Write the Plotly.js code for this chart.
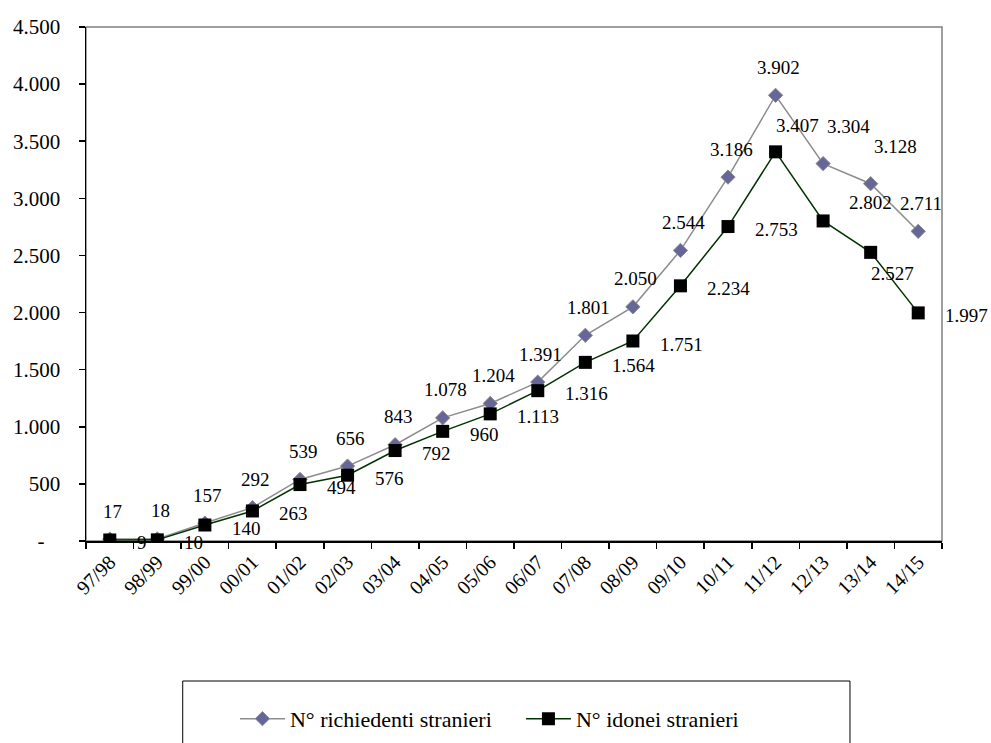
<!DOCTYPE html>
<html>
<head>
<meta charset="utf-8">
<script src="https://cdn.plot.ly/plotly-3.0.1.min.js"></script>
<style>html,body{margin:0;padding:0;background:#fff;}#chart{width:991px;height:743px;}</style>
</head>
<body>
<div id="chart"></div>
<script>
// ---- data ----
var categories = ['97/98','98/99','99/00','00/01','01/02','02/03','03/04','04/05','05/06','06/07','07/08','08/09','09/10','10/11','11/12','12/13','13/14','14/15'];
var richiedenti = [17, 18, 157, 292, 539, 656, 843, 1078, 1204, 1391, 1801, 2050, 2544, 3186, 3902, 3304, 3128, 2711];
var idonei = [9, 10, 140, 263, 494, 576, 792, 960, 1113, 1316, 1564, 1751, 2234, 2753, 3407, 2802, 2527, 1997];
var yTickVals = [0, 500, 1000, 1500, 2000, 2500, 3000, 3500, 4000, 4500];
var yTickText = ['-\u00a0\u00a0\u00a0', '500', '1.000', '1.500', '2.000', '2.500', '3.000', '3.500', '4.000', '4.500'];
var seriesNames = ['N° richiedenti stranieri', 'N° idonei stranieri'];

// label placement keywords (styling only)
var richPlace = ['above','above','above','above','above','above','above','above','above','above','above','above','above','above','above','aboveRight','aboveRight','above'];
var idoPlace  = ['right','right','right','right','right','right','right','right','right','right','right','right','right','right','aboveRight2','rightHigh','belowRight','right'];

function fmt(v) { return String(v).replace(/\B(?=(\d{3})+(?!\d))/g, '.'); }

var FONT = 'Liberation Serif';

var placeMap = {
  above:       {xanchor:'center', yanchor:'middle', xshift: 3,  yshift: 28},
  aboveRight:  {xanchor:'center', yanchor:'middle', xshift: 25, yshift: 37},
  aboveRight2: {xanchor:'center', yanchor:'middle', xshift: 22, yshift: 26},
  right:       {xanchor:'left',   yanchor:'middle', xshift: 25, yshift: -3},
  rightHigh:   {xanchor:'left',   yanchor:'middle', xshift: 24, yshift: 18},
  belowRight:  {xanchor:'center', yanchor:'middle', xshift: 22, yshift: -21}
};

var annotations = [];
function addLabels(vals, places) {
  for (var i = 0; i < vals.length; i++) {
    var p = placeMap[places[i]];
    annotations.push({
      x: categories[i], y: vals[i], xref: 'x', yref: 'y',
      text: fmt(vals[i]), showarrow: false,
      xanchor: p.xanchor, yanchor: p.yanchor, xshift: p.xshift, yshift: p.yshift,
      font: {family: FONT, size: 19, color: '#000'}
    });
  }
}
addLabels(richiedenti, richPlace);
addLabels(idonei, idoPlace);

var traces = [
  {
    x: categories, y: richiedenti, name: seriesNames[0], type: 'scatter', mode: 'lines+markers',
    line: {color: '#8c8c8c', width: 1.5},
    marker: {symbol: 'diamond', size: 11, color: '#666699', line: {color: '#8c8c8c', width: 1}},
    hoverinfo: 'skip'
  },
  {
    x: categories, y: idonei, name: seriesNames[1], type: 'scatter', mode: 'lines+markers',
    line: {color: '#003300', width: 1.5},
    marker: {symbol: 'square', size: 13, color: '#000000', line: {color: '#000', width: 0}},
    hoverinfo: 'skip'
  }
];

var layout = {
  width: 991, height: 743,
  margin: {l: 86, r: 49, t: 27, b: 202, pad: 0, autoexpand: false},
  paper_bgcolor: '#fff', plot_bgcolor: '#fff',
  separators: ',.',
  font: {family: FONT, size: 20, color: '#000'},
  showlegend: true,
  legend: {
    orientation: 'h', x: 0.174, xanchor: 'left', y: -0.346, yanchor: 'middle',
    font: {family: FONT, size: 22, color: '#000'},
    bgcolor: 'rgba(0,0,0,0)', borderwidth: 0,
    itemwidth: 45, entrywidth: 226, entrywidthmode: 'pixels'
  },
  xaxis: {
    type: 'category', range: [-0.5, 17.5], tickson: 'boundaries', ticks: 'outside', ticklen: 6, tickwidth: 1.5, tickcolor: '#000',
    showline: true, linecolor: '#000', linewidth: 1.5, showgrid: false, zeroline: false,
    tickangle: -45, tickfont: {family: FONT, size: 20, color: '#000'}, automargin: false
  },
  yaxis: {
    range: [0, 4500], tickvals: yTickVals, ticktext: yTickText, ticks: 'outside', ticklen: 6, tickwidth: 1.5, tickcolor: '#000',
    showline: true, linecolor: '#000', linewidth: 1.5, showgrid: false, zeroline: false,
    ticklabelstandoff: 14, tickfont: {family: FONT, size: 21, color: '#000'}, automargin: false
  },
  shapes: [
    {type: 'rect', xref: 'paper', yref: 'paper', x0: 0, x1: 1, y0: 0, y1: 1, line: {color: '#808080', width: 1.5}, layer: 'below'},
    {type: 'rect', xref: 'paper', yref: 'paper', x0: 0.113, x1: 0.8925, y0: -0.2724, y1: -0.42, line: {color: '#000', width: 1}, fillcolor: 'rgba(0,0,0,0)', layer: 'above'}
  ],
  annotations: annotations
};

Plotly.newPlot('chart', traces, layout, {staticPlot: true, displayModeBar: false});
</script>
</body>
</html>
